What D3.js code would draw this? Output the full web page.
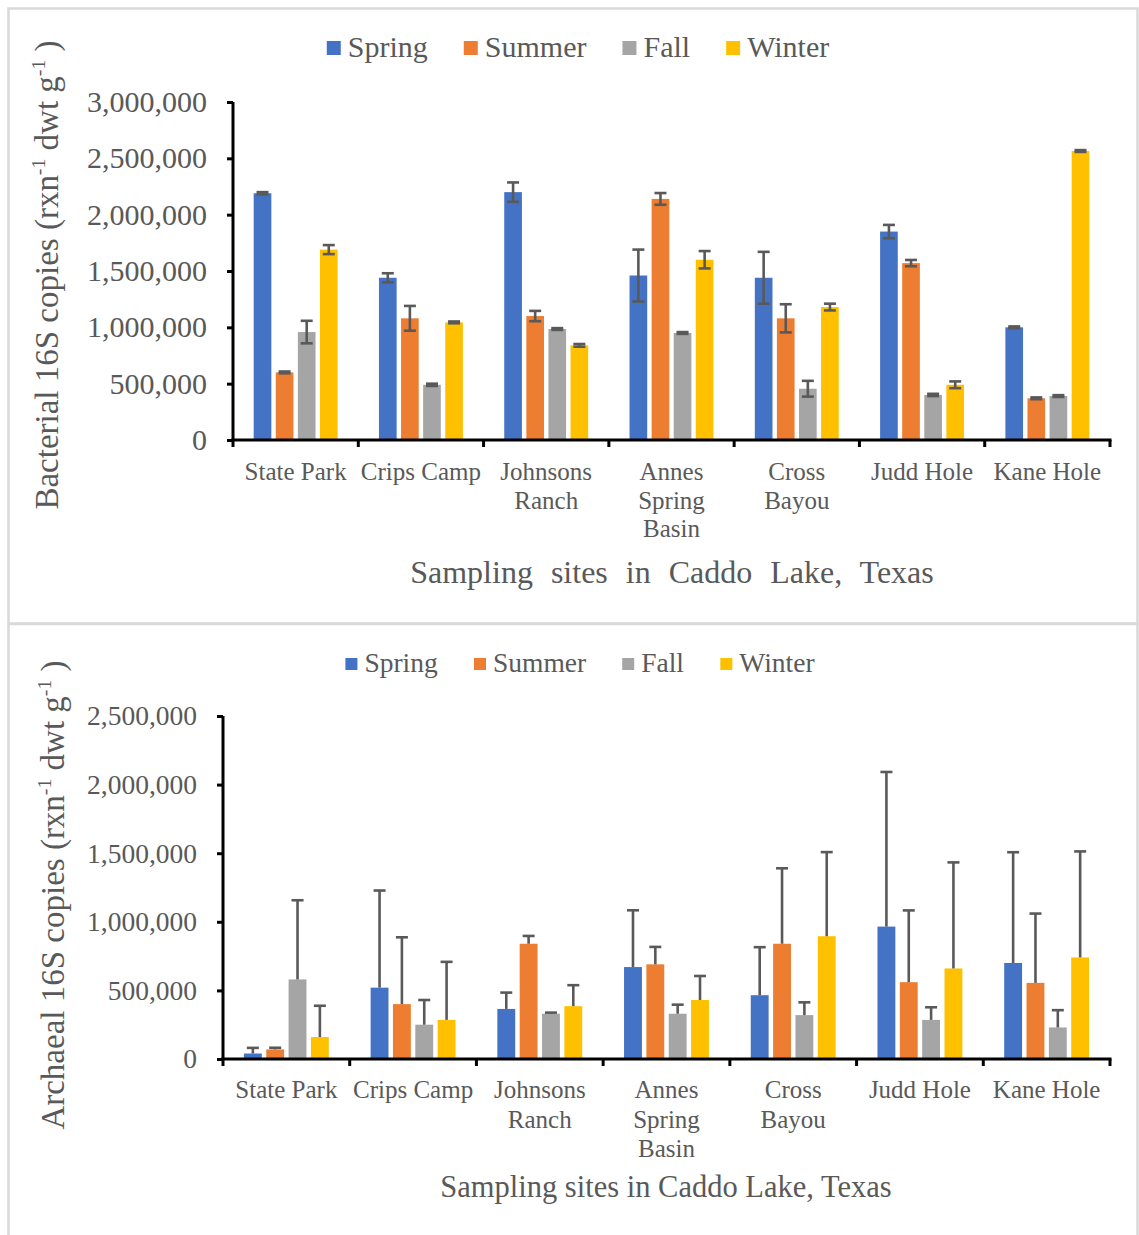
<!DOCTYPE html>
<html>
<head>
<meta charset="utf-8">
<script src="https://cdn.jsdelivr.net/npm/d3@7"></script>
<style>
  html, body { margin: 0; padding: 0; background: #fff; }
  svg { display: block; }
  text { font-family: "Liberation Serif", "Times New Roman", serif; fill: #595959; }
</style>
</head>
<body>
<svg id="fig" width="1139" height="1235"></svg>
<script>
// Sampling sites (x categories) and how each label wraps
const sites = ["State Park", "Crips Camp", "Johnsons Ranch", "Annes Spring Basin", "Cross Bayou", "Judd Hole", "Kane Hole"];
const siteLines = [["State Park"], ["Crips Camp"], ["Johnsons", "Ranch"], ["Annes", "Spring", "Basin"], ["Cross", "Bayou"], ["Judd Hole"], ["Kane Hole"]];
const seasons = ["Spring", "Summer", "Fall", "Winter"];
const seasonColors = ["#4472C4", "#ED7D31", "#A5A5A5", "#FFC000"];

// Bacterial 16S copies (mean and error) per season, one value per site
const bactSpring = [2190000, 1440000, 2200000, 1460000, 1440000, 1850000, 1000000];
const bactSpringErr = [10000, 40000, 86000, 230000, 230000, 59000, 8000];
const bactSummer = [600000, 1080000, 1100000, 2140000, 1080000, 1570000, 370000];
const bactSummerErr = [8000, 110000, 46000, 52000, 125000, 28000, 8000];
const bactFall = [958000, 490000, 985000, 950000, 455000, 400000, 390000];
const bactFallErr = [100000, 10000, 8000, 8000, 70000, 10000, 8000];
const bactWinter = [1690000, 1044000, 840000, 1600000, 1180000, 490000, 2565000];
const bactWinterErr = [40000, 8000, 12000, 77000, 30000, 30000, 8000];
const bactTicks = [0, 500000, 1000000, 1500000, 2000000, 2500000, 3000000];

// Archaeal 16S copies (mean and upper error) per season, one value per site
const archSpring = [40000, 520000, 365000, 670000, 465000, 965000, 700000];
const archSpringErr = [41000, 708000, 119000, 414000, 350000, 1127000, 807000];
const archSummer = [70000, 400000, 840000, 690000, 840000, 560000, 555000];
const archSummerErr = [12000, 487000, 57000, 127000, 550000, 523000, 505000];
const archFall = [580000, 250000, 330000, 330000, 320000, 285000, 230000];
const archFallErr = [577000, 180000, 8000, 66000, 93000, 92000, 126000];
const archWinter = [160000, 285000, 385000, 430000, 895000, 660000, 740000];
const archWinterErr = [228000, 423000, 153000, 175000, 613000, 773000, 773000];
const archTicks = [0, 500000, 1000000, 1500000, 2000000, 2500000];

const svg = d3.select("#fig");
const fmt = d3.format(",");

// panel frames
svg.append("rect").attr("x", 8.5).attr("y", 8.5).attr("width", 1129).attr("height", 615)
  .attr("fill", "none").attr("stroke", "#d9d9d9").attr("stroke-width", 2.5);
svg.append("rect").attr("x", 8.5).attr("y", 624).attr("width", 1129).attr("height", 640)
  .attr("fill", "none").attr("stroke", "#d9d9d9").attr("stroke-width", 2.5);

function buildRows(means, errs) {
  return sites.map((s, i) => ({
    site: s,
    values: seasons.map((season, k) => ({ season, color: seasonColors[k], v: means[k][i], e: errs[k][i] }))
  }));
}

function drawChart(opt) {
  const g = svg.append("g");
  const x = d3.scaleBand().domain(sites).range([opt.left, opt.right]).padding(0);
  const y = d3.scaleLinear().domain([0, opt.ticks[opt.ticks.length - 1]]).range([opt.bottom, opt.top]);
  const pad = x.bandwidth() * 0.165;
  const xs = d3.scaleBand().domain(seasons).range([pad, x.bandwidth() - pad]).paddingInner(0.2);

  const rows = buildRows(opt.means, opt.errs);

  // bars
  const grp = g.selectAll("g.site").data(rows).join("g")
    .attr("transform", d => `translate(${x(d.site)},0)`);
  grp.selectAll("rect").data(d => d.values).join("rect")
    .attr("x", d => xs(d.season))
    .attr("width", xs.bandwidth())
    .attr("y", d => y(d.v))
    .attr("height", d => y(0) - y(d.v))
    .attr("fill", d => d.color);

  // error bars
  const eb = grp.selectAll("g.err").data(d => d.values).join("g")
    .attr("transform", d => `translate(${xs(d.season) + xs.bandwidth() / 2},0)`)
    .attr("stroke", "#595959").attr("stroke-width", 2.6).attr("fill", "none");
  const lo = d => opt.symmetric ? y(d.v - d.e) : y(d.v);
  eb.append("line").attr("x1", 0).attr("x2", 0).attr("y1", d => y(d.v + d.e)).attr("y2", lo);
  eb.append("line").attr("x1", -6).attr("x2", 6).attr("y1", d => y(d.v + d.e)).attr("y2", d => y(d.v + d.e));
  if (opt.symmetric) {
    eb.append("line").attr("x1", -6).attr("x2", 6).attr("y1", lo).attr("y2", lo);
  }

  // y axis
  const yAxis = g.append("g").attr("transform", `translate(${opt.left},0)`)
    .call(d3.axisLeft(y).tickValues(opt.ticks).tickFormat(fmt).tickSize(6).tickPadding(20));
  yAxis.select(".domain").attr("stroke", "#000").attr("stroke-width", 3)
    .attr("d", `M0,${opt.top}V${opt.bottom}`);
  yAxis.selectAll(".tick line").attr("stroke", "#000").attr("stroke-width", 3);
  yAxis.selectAll(".tick text").attr("fill", "#595959").style("font-size", opt.tickFont + "px")
    .style("font-family", "'Liberation Serif', 'Times New Roman', serif");

  // x axis: baseline with ticks at category boundaries
  g.append("line").attr("x1", opt.left - 1.5).attr("x2", opt.right + 1.5)
    .attr("y1", opt.bottom).attr("y2", opt.bottom).attr("stroke", "#000").attr("stroke-width", 3);
  const bounds = sites.map(s => x(s)).concat([opt.right]);
  g.selectAll("line.xt").data(bounds).join("line").attr("class", "xt")
    .attr("x1", d => d).attr("x2", d => d).attr("y1", opt.bottom).attr("y2", opt.bottom + 7)
    .attr("stroke", "#000").attr("stroke-width", 3);

  // category labels
  const lab = g.selectAll("text.cat").data(sites).join("text").attr("class", "cat")
    .attr("text-anchor", "middle").style("font-size", opt.catFont + "px");
  lab.each(function (s, i) {
    const t = d3.select(this);
    siteLines[i].forEach((line, j) => {
      t.append("tspan").attr("x", x(s) + x.bandwidth() / 2)
        .attr("y", opt.catBase + j * opt.catLine).text(line);
    });
  });

  // axis titles
  g.append("text").attr("text-anchor", "middle")
    .attr("x", opt.xTitleX).attr("y", opt.xTitleY)
    .style("font-size", opt.xTitleFont + "px").style("word-spacing", opt.wordSpacing + "px")
    .text("Sampling sites in Caddo Lake, Texas");

  const yt = g.append("text").attr("text-anchor", "middle")
    .attr("transform", `translate(${opt.yTitleX},${opt.yTitleY}) rotate(-90)`)
    .style("font-size", opt.yTitleFont + "px");
  yt.append("tspan").text(opt.yTitle + " 16S copies (rxn");
  yt.append("tspan").attr("dy", -opt.yTitleFont * 0.38).style("font-size", (opt.yTitleFont * 0.6) + "px").text("-1");
  yt.append("tspan").attr("dy", opt.yTitleFont * 0.38).text(" dwt g");
  yt.append("tspan").attr("dy", -opt.yTitleFont * 0.38).style("font-size", (opt.yTitleFont * 0.6) + "px").text("-1");
  yt.append("tspan").attr("dy", opt.yTitleFont * 0.38).text(" )");

  // legend, centred over the plot
  const leg = g.append("g");
  const items = leg.selectAll("g").data(seasons).join("g");
  items.append("rect").attr("width", opt.sw).attr("height", opt.sw)
    .attr("y", -opt.sw).attr("fill", (d, k) => seasonColors[k]);
  items.append("text").attr("x", opt.sw + 7).attr("y", 0).attr("dy", 2)
    .style("font-size", opt.legFont + "px").text(d => d);
  let cx = 0;
  items.each(function () {
    const w = this.getBBox().width;
    d3.select(this).attr("transform", `translate(${cx},0)`);
    cx += w + opt.legGap;
  });
  const total = cx - opt.legGap;
  leg.attr("transform", `translate(${opt.legCenter - total / 2},${opt.legY})`);
}

drawChart({
  means: [bactSpring, bactSummer, bactFall, bactWinter],
  errs: [bactSpringErr, bactSummerErr, bactFallErr, bactWinterErr],
  ticks: bactTicks, symmetric: true,
  left: 233, right: 1110, top: 102, bottom: 440,
  tickFont: 30, catFont: 25, catBase: 480, catLine: 28.5,
  xTitleX: 672, xTitleY: 583, xTitleFont: 32, wordSpacing: 10,
  yTitle: "Bacterial", yTitleX: 58, yTitleY: 275, yTitleFont: 33,
  sw: 14, legFont: 30, legGap: 36, legCenter: 578, legY: 55
});

drawChart({
  means: [archSpring, archSummer, archFall, archWinter],
  errs: [archSpringErr, archSummerErr, archFallErr, archWinterErr],
  ticks: archTicks, symmetric: false,
  left: 223, right: 1110, top: 716, bottom: 1059,
  tickFont: 27.5, catFont: 25, catBase: 1098, catLine: 29.5,
  xTitleX: 666, xTitleY: 1197, xTitleFont: 30.5, wordSpacing: 0,
  yTitle: "Archaeal", yTitleX: 64, yTitleY: 895, yTitleFont: 33,
  sw: 12, legFont: 27.5, legGap: 36, legCenter: 580, legY: 670
});
</script>
</body>
</html>
